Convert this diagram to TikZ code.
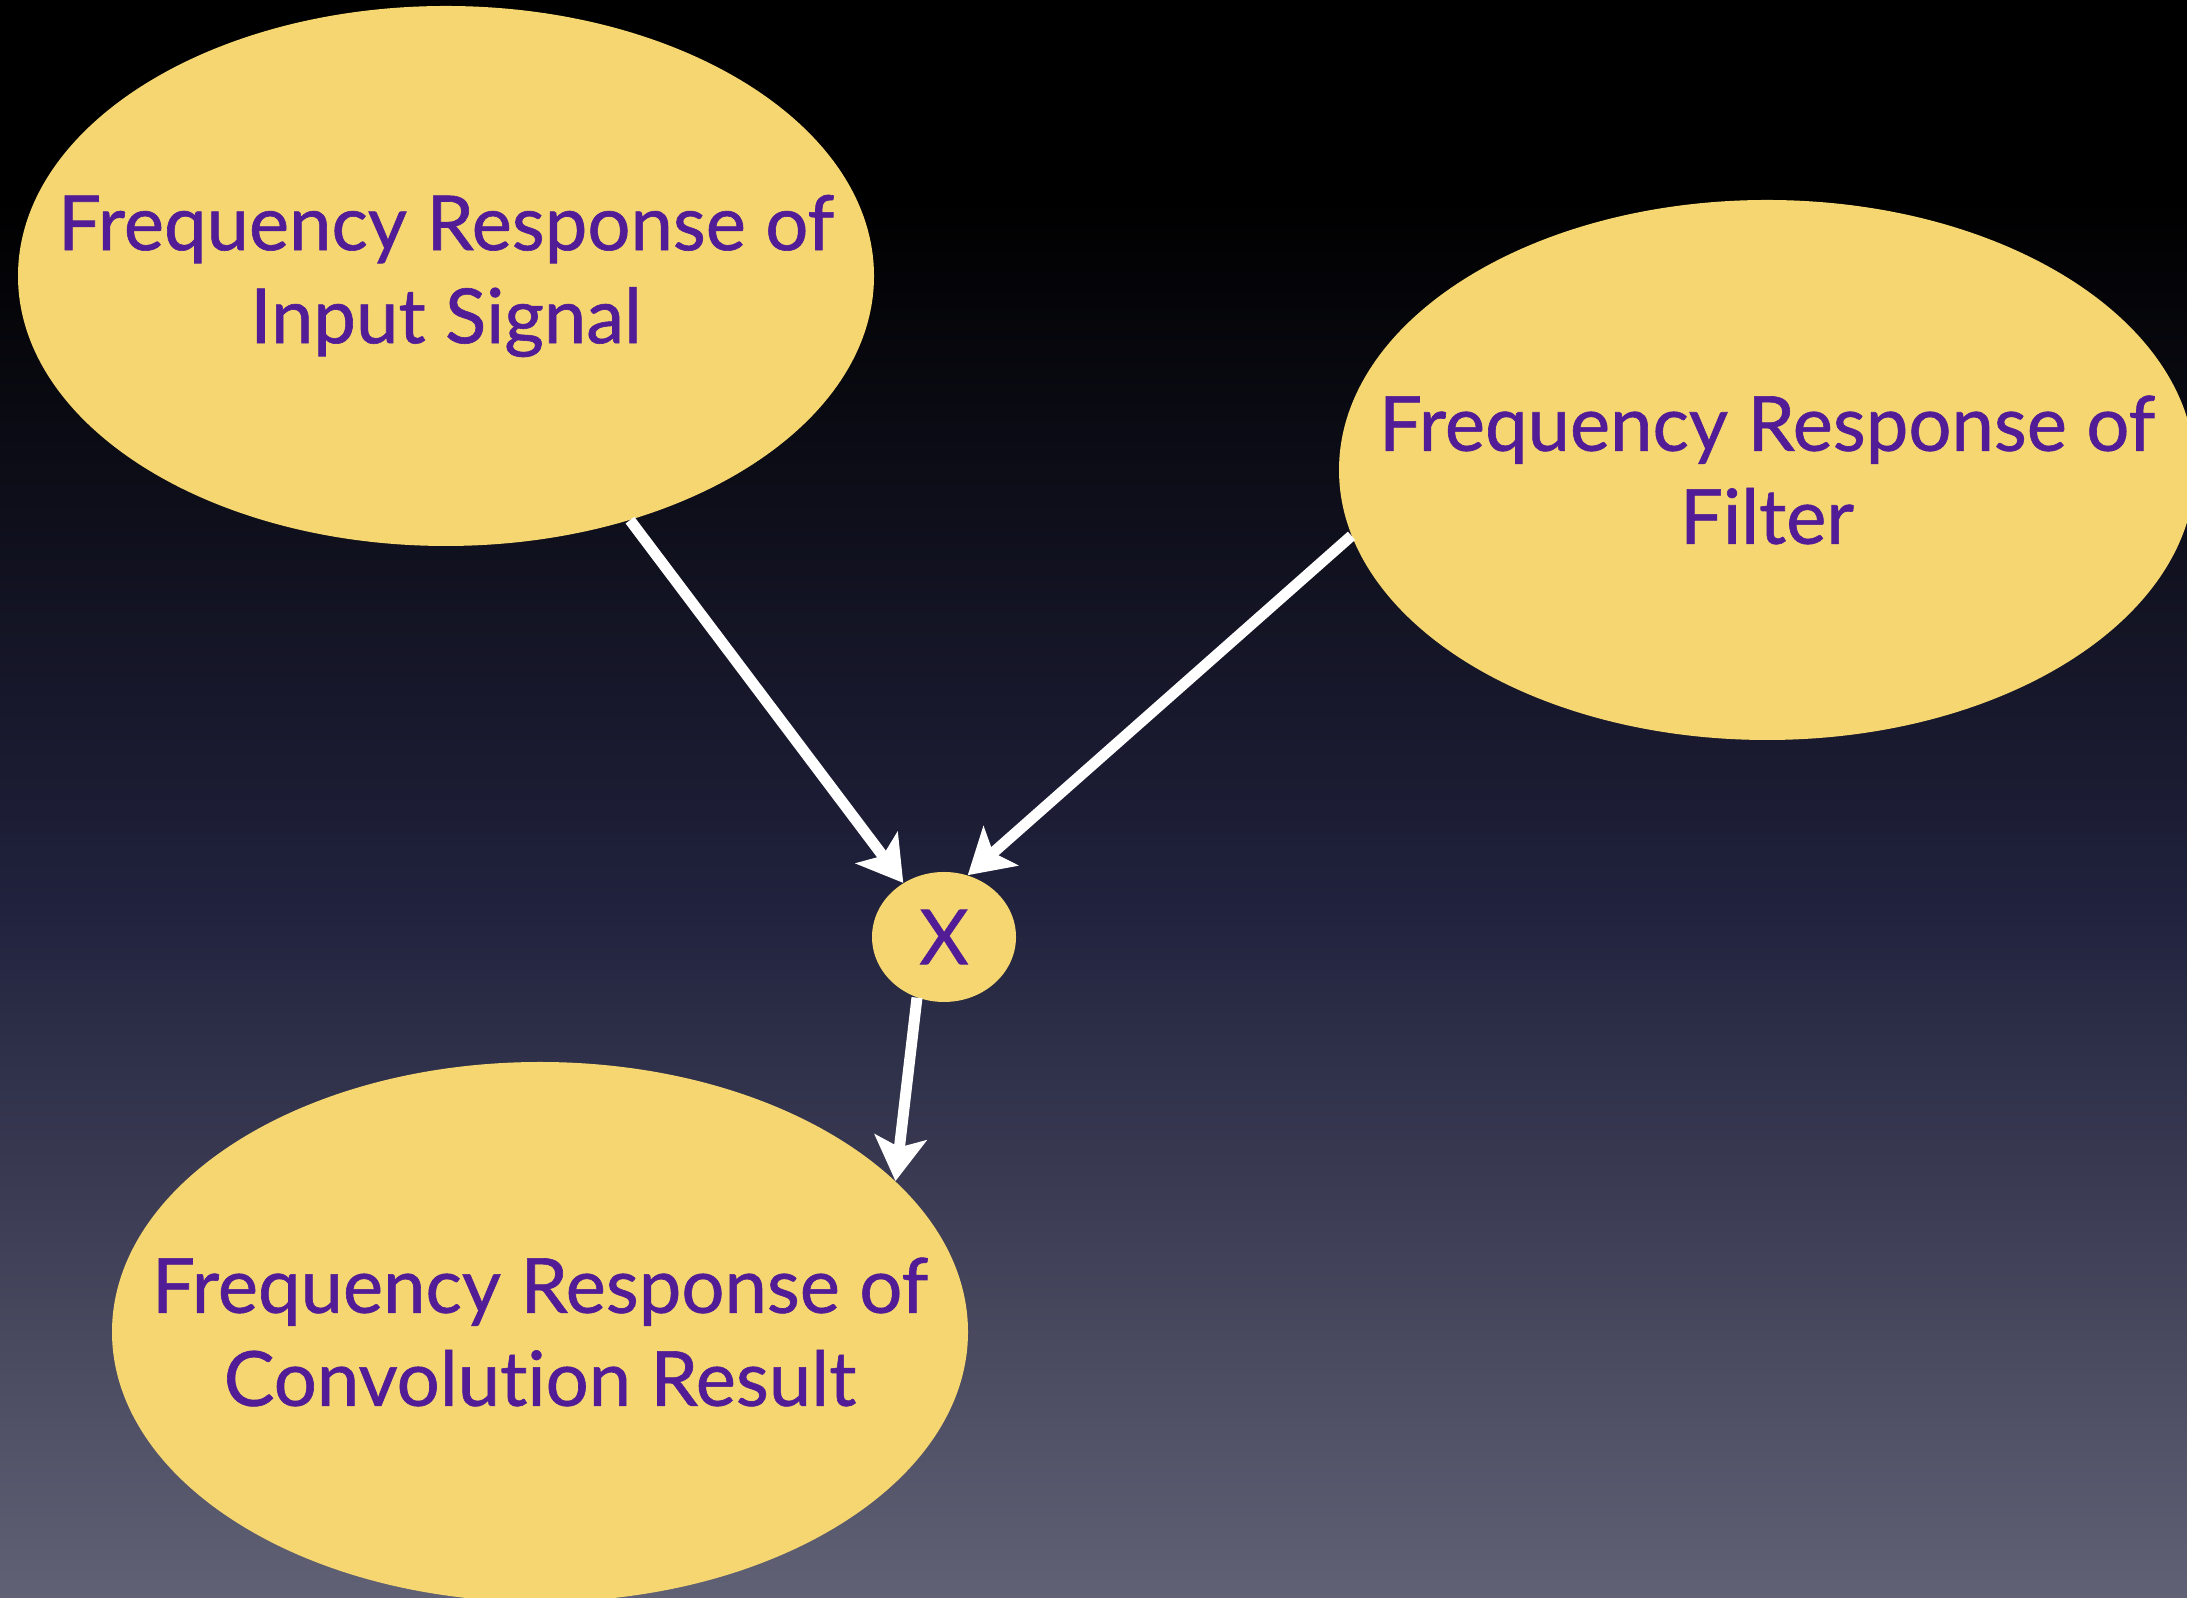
\documentclass[tikz,border=0pt]{standalone}
\usepackage{fontspec}
\setmainfont{Lato}[Ligatures=NoCommon, FakeBold=0.8]
\usetikzlibrary{arrows.meta,shapes.geometric}
\definecolor{bgmid}{RGB}{32,33,60}
\definecolor{bgbot}{RGB}{96,97,116}
\definecolor{bubblefill}{RGB}{245,214,112}
\definecolor{ink}{RGB}{82,28,150}
\tikzset{
  bubble/.style={ellipse, fill=bubblefill, inner sep=0pt, minimum width=428pt,
    minimum height=270pt},
  lbl/.style={text=ink, align=center, inner sep=0pt,
    font=\fontsize{38}{46.5}\selectfont},
  link/.style={draw=white, line width=5.5pt,
    -{Stealth[length=22pt,width=26pt,inset=5pt]}}
}
\begin{document}
\begin{tikzpicture}[x=0.5pt,y=0.5pt]
\fill[black] (0,0) rectangle (2187,1598);
\shade[top color=black, bottom color=bgbot, middle color=bgmid] (0,0) rectangle (2187,1400);
\useasboundingbox (0,0) rectangle (2187,1598);

\node[bubble] (in) at (446,1322) {};
\node[bubble] (filt) at (1767,1128) {};
\node[bubble, minimum width=72pt, minimum height=65pt] (mul) at (944,661) {};
\node[bubble] (res) at (540,266) {};

\node[lbl] (in-txt) at (in) {Frequency Response of\\Input Signal};
\node[lbl] (filt-txt) at (filt) {Frequency Response of\\Filter};
\node[lbl] (mul-txt) at (mul) {X};
\node[lbl] (res-txt) at (res) {Frequency Response of\\Convolution Result};

\draw[link] (in) -- (mul);
\draw[link] (filt.189) -- (mul.69);
\draw[link] (mul.246) -- (res.23);
\end{tikzpicture}
\end{document}
